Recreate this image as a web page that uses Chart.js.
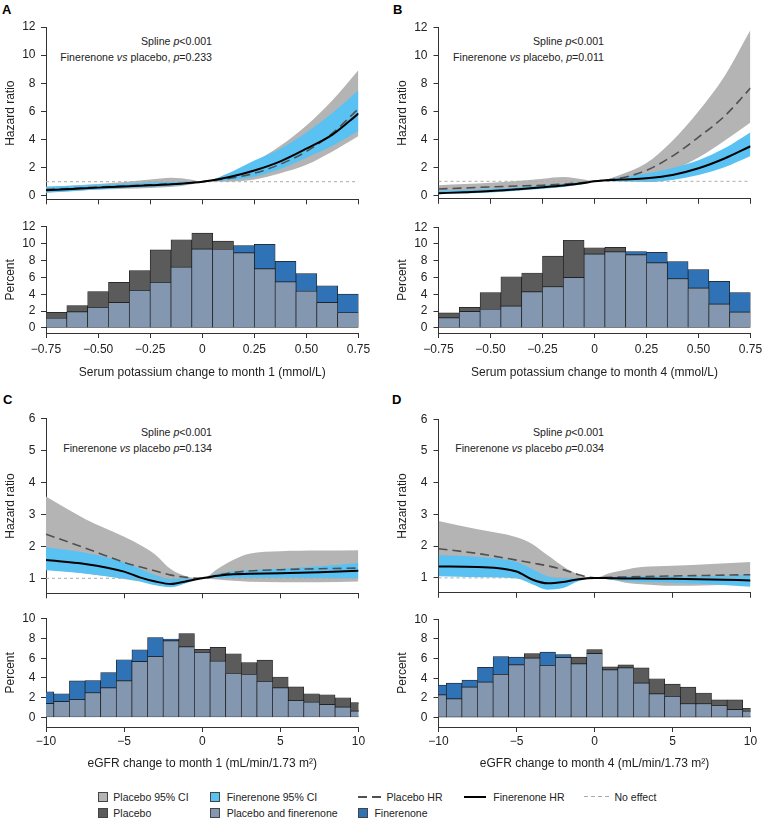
<!DOCTYPE html>
<html>
<head>
<meta charset="utf-8">
<title>Hazard ratio by serum potassium and eGFR change</title>
<script src="https://cdn.jsdelivr.net/npm/chart.js@4.4.1/dist/chart.umd.min.js"></script>
<style>
html, body { margin: 0; padding: 0; background: #fff; }
#page { position: relative; width: 763px; height: 819px; overflow: hidden;
        font-family: "Liberation Sans", Arial, Helvetica, sans-serif; color: #222; }
#page canvas { position: absolute; }
.tag { position: absolute; font-size: 13px; line-height: 13px; font-weight: bold; color: #000; }
.note { position: absolute; font-size: 10.6px; line-height: 15.6px; text-align: right; white-space: nowrap; }
.lg { position: absolute; font-size: 10.5px; line-height: 12px; white-space: nowrap; }
.sw { position: absolute; width: 8px; height: 8px; border: 1px solid #444; }
.ln { position: absolute; }
</style>
</head>
<body>
<div id="page">
  <div class="tag" style="left:2px;top:3px">A</div>
  <div class="tag" style="left:393px;top:3px">B</div>
  <div class="tag" style="left:3px;top:393px">C</div>
  <div class="tag" style="left:392px;top:393px">D</div>

  <div class="note" style="right:551px;top:34px">Spline <i>p</i>&lt;0.001<br>Finerenone <i>vs</i> placebo, <i>p</i>=0.233</div>
  <div class="note" style="right:159px;top:34px">Spline <i>p</i>&lt;0.001<br>Finerenone <i>vs</i> placebo, <i>p</i>=0.011</div>
  <div class="note" style="right:551px;top:425px">Spline <i>p</i>&lt;0.001<br>Finerenone <i>vs</i> placebo <i>p</i>=0.134</div>
  <div class="note" style="right:159px;top:425px">Spline <i>p</i>&lt;0.001<br>Finerenone <i>vs</i> placebo <i>p</i>=0.034</div>
</div>
<script>
// ---- x grids of the spline curves ----
const kGrid = [-0.75, -0.625, -0.5, -0.375, -0.25, -0.15, -0.05, 0, 0.125, 0.25, 0.375, 0.5, 0.625, 0.75];
const eGrid = [-10, -7.5, -5, -4, -3, -2, -1, 0, 1, 2, 3, 5, 7.5, 10];

// ---- A: serum potassium change to month 1 ----
const aPlcHR = [0.45, 0.53, 0.62, 0.70, 0.78, 0.84, 0.93, 1, 1.23, 1.60, 2.25, 3.15, 4.45, 6.20];
const aFinHR = [0.40, 0.49, 0.58, 0.66, 0.75, 0.82, 0.93, 1, 1.32, 1.80, 2.45, 3.35, 4.35, 5.85];
const aPlcLo = [0.24, 0.34, 0.44, 0.50, 0.56, 0.62, 0.82, 1, 1.00, 1.15, 1.60, 2.20, 3.15, 4.25];
const aPlcHi = [0.64, 0.74, 0.84, 0.98, 1.15, 1.28, 1.14, 1, 1.55, 2.40, 3.55, 5.00, 6.80, 8.95];
const aFinLo = [0.22, 0.32, 0.44, 0.55, 0.64, 0.72, 0.88, 1, 1.10, 1.35, 1.90, 2.70, 3.55, 4.60];
const aFinHi = [0.64, 0.72, 0.80, 0.86, 0.94, 0.98, 1.00, 1, 1.60, 2.50, 3.35, 4.50, 5.90, 7.50];

// ---- B: serum potassium change to month 4 ----
const bPlcHR = [0.45, 0.52, 0.60, 0.66, 0.72, 0.80, 0.92, 1, 1.23, 1.78, 2.80, 4.15, 5.65, 7.65];
const bFinHR = [0.15, 0.22, 0.30, 0.43, 0.57, 0.70, 0.88, 1, 1.12, 1.22, 1.45, 1.93, 2.63, 3.50];
const bPlcLo = [0.25, 0.32, 0.40, 0.48, 0.55, 0.62, 0.80, 1, 1.05, 1.30, 1.80, 2.70, 3.90, 5.20];
const bPlcHi = [0.72, 0.80, 0.90, 1.02, 1.18, 1.30, 1.12, 1, 1.47, 2.30, 3.90, 6.00, 8.50, 11.80];
const bFinLo = [0.08, 0.13, 0.20, 0.33, 0.47, 0.60, 0.83, 1, 0.98, 0.95, 1.10, 1.45, 2.00, 2.80];
const bFinHi = [0.32, 0.38, 0.45, 0.55, 0.70, 0.80, 0.95, 1, 1.28, 1.55, 1.95, 2.50, 3.35, 4.50];

// ---- C: eGFR change to month 1 ----
const cPlcHR = [2.38, 1.95, 1.50, 1.36, 1.23, 1.10, 1.03, 1, 1.10, 1.18, 1.23, 1.27, 1.30, 1.32];
const cFinHR = [1.57, 1.45, 1.21, 1.03, 0.90, 0.82, 0.91, 1, 1.08, 1.13, 1.14, 1.16, 1.19, 1.24];
const cPlcLo = [1.30, 1.15, 1.00, 0.95, 0.88, 0.85, 0.92, 1, 0.96, 0.92, 0.89, 0.88, 0.88, 0.90];
const cPlcHi = [3.56, 2.86, 2.30, 2.05, 1.74, 1.28, 1.06, 1, 1.30, 1.58, 1.77, 1.85, 1.87, 1.88];
const cFinLo = [1.25, 1.15, 0.98, 0.90, 0.78, 0.72, 0.85, 1, 1.00, 1.02, 1.02, 1.02, 1.01, 1.00];
const cFinHi = [1.97, 1.80, 1.50, 1.30, 1.10, 0.98, 1.00, 1, 1.15, 1.22, 1.25, 1.30, 1.38, 1.48];

// ---- D: eGFR change to month 4 ----
const dPlcHR = [1.92, 1.77, 1.56, 1.47, 1.38, 1.26, 1.10, 1, 1.02, 1.03, 1.04, 1.06, 1.08, 1.10];
const dFinHR = [1.36, 1.34, 1.20, 0.95, 0.83, 0.87, 0.96, 1, 0.99, 0.98, 0.98, 0.97, 0.95, 0.92];
const dPlcLo = [1.20, 1.15, 1.05, 0.95, 0.85, 0.85, 0.93, 1, 0.95, 0.85, 0.80, 0.75, 0.77, 0.80];
const dPlcHi = [2.79, 2.53, 2.28, 2.07, 1.71, 1.36, 1.10, 1, 1.15, 1.26, 1.34, 1.38, 1.44, 1.50];
const dFinLo = [1.05, 1.02, 0.98, 0.80, 0.63, 0.68, 0.90, 1, 0.95, 0.90, 0.87, 0.85, 0.80, 0.72];
const dFinHi = [1.72, 1.66, 1.50, 1.28, 1.05, 1.00, 1.00, 1, 1.02, 1.04, 1.05, 1.05, 1.06, 1.10];

// ---- histogram bins (percent of patients) ----
const kBins = [-0.7, -0.6, -0.5, -0.4, -0.3, -0.2, -0.1, 0, 0.1, 0.2, 0.3, 0.4, 0.5, 0.6, 0.7];
const eBins = [-10, -9, -8, -7, -6, -5, -4, -3, -2, -1, 0, 1, 2, 3, 4, 5, 6, 7, 8, 9, 10];
const aPlcPct = [1.85, 2.65, 4.3, 5.4, 6.8, 9.25, 10.45, 11.25, 10.3, 8.9, 7.0, 5.45, 4.35, 3.0, 1.8];
const aFinPct = [1.15, 1.9, 2.45, 3.0, 4.45, 5.4, 7.2, 9.35, 9.3, 9.75, 9.9, 7.9, 6.45, 5.0, 4.0];
const bPlcPct = [1.8, 2.45, 4.2, 6.1, 6.55, 8.55, 10.45, 9.55, 9.6, 8.7, 7.75, 5.85, 4.75, 2.85, 1.9];
const bFinPct = [1.2, 1.95, 2.2, 2.6, 4.3, 4.9, 6.0, 8.8, 9.05, 9.1, 9.0, 7.9, 6.95, 5.55, 4.2];
const cPlcPct = [1.4, 1.6, 1.8, 2.5, 3.0, 3.7, 5.65, 6.15, 7.75, 8.5, 6.9, 7.1, 6.45, 5.55, 5.8, 4.1, 3.1, 2.4, 2.3, 2.0, 1.5];
const cFinPct = [2.6, 2.4, 3.7, 3.75, 4.55, 5.85, 6.85, 8.1, 7.95, 7.15, 6.6, 5.7, 4.45, 4.35, 3.65, 3.0, 1.7, 1.55, 1.3, 1.05, 0.65];
const dPlcPct = [2.3, 1.9, 3.1, 3.6, 4.4, 5.35, 6.5, 5.3, 6.1, 6.15, 6.9, 5.15, 5.35, 5.05, 3.95, 3.4, 3.1, 2.5, 1.8, 1.8, 0.95];
const dFinPct = [3.3, 3.5, 3.8, 5.1, 6.2, 6.15, 6.05, 6.65, 6.4, 5.45, 6.5, 4.85, 5.05, 3.5, 2.4, 2.15, 1.4, 1.4, 1.2, 0.8, 0.65];

// ---- axes ----
const kRange = [-0.75, 0.75];
const eRange = [-10, 10];
const kTicks = [-0.75, -0.5, -0.25, 0, 0.25, 0.5, 0.75];
const kTickLabels = ['\u22120.75', '\u22120.50', '\u22120.25', '0', '0.25', '0.50', '0.75'];
const eTicks = [-10, -5, 0, 5, 10];
const eTickLabels = ['\u221210', '\u22125', '0', '5', '10'];
const hrTicksK = [0, 2, 4, 6, 8, 10, 12];
const hrTicksE = [1, 2, 3, 4, 5, 6];
const pctTicksK = [0, 2, 4, 6, 8, 10, 12];
const pctTicksE = [0, 2, 4, 6, 8, 10];
const NO_EFFECT = 1;

// ---- colours ----
const AXIS = '#333';
const GREY_CI = '#b4b4b4';
const BLUE_CI = '#5ac2f2';
const PLC_BAR = '#5b5b5b';
const BOTH_BAR = '#8497b0';
const FIN_BAR = '#2f73b6';

Chart.defaults.font.family = '"Liberation Sans", Arial, Helvetica, sans-serif';
Chart.defaults.font.size = 12;
Chart.defaults.color = '#222';

const page = document.getElementById('page');
const CW = 373;
const LEFT = { cx: 3, l: 46, r: 358.5, pad: 5.5 };
const RIGHT = { cx: 395, l: 438.5, r: 750.5, pad: 6 };

function place(x, y, w, h) {
    const c = document.createElement('canvas');
    c.width = w; c.height = h;
    c.style.left = x + 'px'; c.style.top = y + 'px';
    c.style.width = w + 'px'; c.style.height = h + 'px';
    page.appendChild(c);
    return c;
}

function xScale(o) {
    return {
        type: 'linear', min: o.range[0], max: o.range[1], offset: false, stacked: !!o.stacked,
        afterBuildTicks: s => { s.ticks = o.ticks.map(v => ({ value: v })); },
        afterFit: s => { s.height = o.height; },
        border: { display: true, color: AXIS, width: 1 },
        grid: { display: true, offset: false, drawOnChartArea: false, drawTicks: true, tickLength: 5, tickColor: AXIS },
        ticks: {
            display: !!o.labels, padding: o.pad || 0, autoSkip: false, maxRotation: 0,
            callback: (v, i) => (o.labels ? o.labels[i] : '')
        },
        title: { display: !!o.title, text: o.title, padding: 0 }
    };
}

function yScale(o) {
    return {
        type: 'linear', min: o.range[0], max: o.range[1], stacked: !!o.stacked,
        afterBuildTicks: s => { s.ticks = o.ticks.map(v => ({ value: v })); },
        afterFit: s => { s.width = o.width; },
        border: { display: true, color: AXIS, width: 1 },
        grid: { display: true, drawOnChartArea: false, drawTicks: true, tickLength: 5, tickColor: AXIS },
        ticks: { padding: o.pad, autoSkip: false, callback: v => String(v) },
        title: { display: true, text: o.title, padding: 0 }
    };
}

function baseOptions(col, y, t) {
    return {
        responsive: false, animation: false, events: [],
        layout: { padding: { top: t - y, right: col.cx + CW - col.r, left: 0, bottom: 0 } },
        plugins: { legend: { display: false }, tooltip: { enabled: false } }
    };
}

function drawSpline(p) {
    const col = p.col;
    const pts = ys => p.grid.map((x, i) => ({ x: x, y: ys[i] }));
    const band = { borderColor: 'rgba(0,0,0,0)', borderWidth: 0 };
    const opts = baseOptions(col, p.y, p.t);
    opts.elements = { point: { radius: 0 }, line: { cubicInterpolationMode: 'monotone' } };
    opts.scales = {
        x: xScale({ range: p.xr, ticks: p.xTicks, height: p.y + p.h - p.b }),
        y: yScale({ range: p.yr, ticks: p.yTicks, width: col.l - col.cx, pad: col.pad, title: 'Hazard ratio' })
    };
    new Chart(place(col.cx, p.y, CW, p.h), {
        type: 'line',
        data: {
            datasets: [
                { data: pts(p.finHR), borderColor: '#000', borderWidth: 2, fill: false, order: 1 },
                { data: pts(p.plcHR), borderColor: '#505050', borderWidth: 1.6, borderDash: [9, 5], fill: false, order: 2 },
                { data: p.xr.map(x => ({ x: x, y: NO_EFFECT })), borderColor: '#aaa', borderWidth: 1, borderDash: [3, 3], fill: false, order: 3 },
                Object.assign({ data: pts(p.finHi), fill: '+1', backgroundColor: BLUE_CI, order: 4 }, band),
                Object.assign({ data: pts(p.finLo), fill: false, order: 4 }, band),
                Object.assign({ data: pts(p.plcHi), fill: '+1', backgroundColor: GREY_CI, order: 5 }, band),
                Object.assign({ data: pts(p.plcLo), fill: false, order: 5 }, band)
            ]
        },
        options: opts
    });
}

function drawHist(p) {
    const col = p.col;
    // overlapping histograms: common part, then whichever group is higher
    const both = p.plc.map((v, i) => Math.min(v, p.fin[i]));
    const plcOnly = p.plc.map((v, i) => (v > p.fin[i] ? v - p.fin[i] : null));
    const finOnly = p.fin.map((v, i) => (v > p.plc[i] ? v - p.plc[i] : null));
    const pts = ys => p.bins.map((x, i) => ({ x: x, y: ys[i] }));
    const bar = {
        borderColor: '#1c1c1c', borderWidth: 0.7, borderSkipped: false,
        barPercentage: 1, categoryPercentage: 1,
        clip: { left: 0, right: 0, top: false, bottom: false }
    };
    const opts = baseOptions(col, p.y, p.t);
    opts.scales = {
        x: xScale({ range: p.xr, ticks: p.xTicks, labels: p.xLabels, pad: p.xPad, title: p.xTitle,
                    height: p.y + p.h - p.b, stacked: true }),
        y: yScale({ range: p.yr, ticks: p.yTicks, width: col.l - col.cx, pad: col.pad, title: 'Percent', stacked: true })
    };
    new Chart(place(col.cx, p.y, CW, p.h), {
        type: 'bar',
        data: {
            datasets: [
                Object.assign({ data: pts(both), backgroundColor: BOTH_BAR }, bar),
                Object.assign({ data: pts(plcOnly), backgroundColor: PLC_BAR }, bar),
                Object.assign({ data: pts(finOnly), backgroundColor: FIN_BAR }, bar)
            ]
        },
        options: opts
    });
}

// ---- panels ----
drawSpline({ col: LEFT, y: 14, h: 198, t: 27, b: 203, grid: kGrid, xr: kRange, xTicks: kTicks,
             yr: [-0.25, 12], yTicks: hrTicksK,
             plcHR: aPlcHR, finHR: aFinHR, plcLo: aPlcLo, plcHi: aPlcHi, finLo: aFinLo, finHi: aFinHi });
drawSpline({ col: RIGHT, y: 14, h: 198, t: 27, b: 203, grid: kGrid, xr: kRange, xTicks: kTicks,
             yr: [-0.25, 12], yTicks: hrTicksK,
             plcHR: bPlcHR, finHR: bFinHR, plcLo: bPlcLo, plcHi: bPlcHi, finLo: bFinLo, finHi: bFinHi });
drawSpline({ col: LEFT, y: 406, h: 200, t: 417.5, b: 597, grid: eGrid, xr: eRange, xTicks: eTicks,
             yr: [0.53, 6], yTicks: hrTicksE,
             plcHR: cPlcHR, finHR: cFinHR, plcLo: cPlcLo, plcHi: cPlcHi, finLo: cFinLo, finHi: cFinHi });
drawSpline({ col: RIGHT, y: 406, h: 200, t: 418, b: 597, grid: eGrid, xr: eRange, xTicks: eTicks,
             yr: [0.53, 6], yTicks: hrTicksE,
             plcHR: dPlcHR, finHR: dFinHR, plcLo: dPlcLo, plcHi: dPlcHi, finLo: dFinLo, finHi: dFinHi });

drawHist({ col: LEFT, y: 214, h: 166, t: 226, b: 333, bins: kBins, xr: kRange, xTicks: kTicks,
           xLabels: kTickLabels, xPad: 4.8, xTitle: 'Serum potassium change to month 1 (mmol/L)',
           yr: [-0.6, 12], yTicks: pctTicksK, plc: aPlcPct, fin: aFinPct });
drawHist({ col: RIGHT, y: 214, h: 166, t: 226, b: 333, bins: kBins, xr: kRange, xTicks: kTicks,
           xLabels: kTickLabels, xPad: 4.8, xTitle: 'Serum potassium change to month 4 (mmol/L)',
           yr: [-0.6, 12], yTicks: pctTicksK, plc: bPlcPct, fin: bFinPct });
drawHist({ col: LEFT, y: 606, h: 165, t: 616.7, b: 727, bins: eBins, xr: eRange, xTicks: eTicks,
           xLabels: eTickLabels, xPad: 2.5, xTitle: 'eGFR change to month 1 (mL/min/1.73 m\u00b2)',
           yr: [-0.96, 10], yTicks: pctTicksE, plc: cPlcPct, fin: cFinPct });
drawHist({ col: RIGHT, y: 606, h: 165, t: 616.7, b: 727, bins: eBins, xr: eRange, xTicks: eTicks,
           xLabels: eTickLabels, xPad: 2.5, xTitle: 'eGFR change to month 4 (mL/min/1.73 m\u00b2)',
           yr: [-0.96, 10], yTicks: pctTicksE, plc: dPlcPct, fin: dFinPct });

// ---- legend ----
function addDiv(cls, css, text) {
    const d = document.createElement('div');
    d.className = cls;
    d.style.cssText = css;
    if (text) d.textContent = text;
    page.appendChild(d);
}
const legendBoxes = [
    [97.5, 792, GREY_CI, 113.3, 'Placebo 95% CI'],
    [210, 792, BLUE_CI, 226.7, 'Finerenone 95% CI'],
    [97.5, 808, PLC_BAR, 113.3, 'Placebo'],
    [210, 808, BOTH_BAR, 226.7, 'Placebo and finerenone'],
    [357.7, 808, FIN_BAR, 374.4, 'Finerenone']
];
legendBoxes.forEach(b => {
    addDiv('sw', `left:${b[0]}px;top:${b[1]}px;background:${b[2]}`);
    addDiv('lg', `left:${b[3]}px;top:${b[1] - 1.3}px`, b[4]);
});
addDiv('ln', 'left:357.7px;top:796px;width:23px;height:1.6px;background:repeating-linear-gradient(to right,#505050 0 9px,transparent 9px 14px)');
addDiv('lg', 'left:386.5px;top:790.7px', 'Placebo HR');
addDiv('ln', 'left:463.8px;top:795.7px;width:22.7px;height:2px;background:#000');
addDiv('lg', 'left:493.3px;top:790.7px', 'Finerenone HR');
addDiv('ln', 'left:584px;top:796.2px;width:25px;height:1px;background:repeating-linear-gradient(to right,#aaa 0 4px,transparent 4px 7px)');
addDiv('lg', 'left:614.5px;top:790.7px', 'No effect');
</script>
</body>
</html>
